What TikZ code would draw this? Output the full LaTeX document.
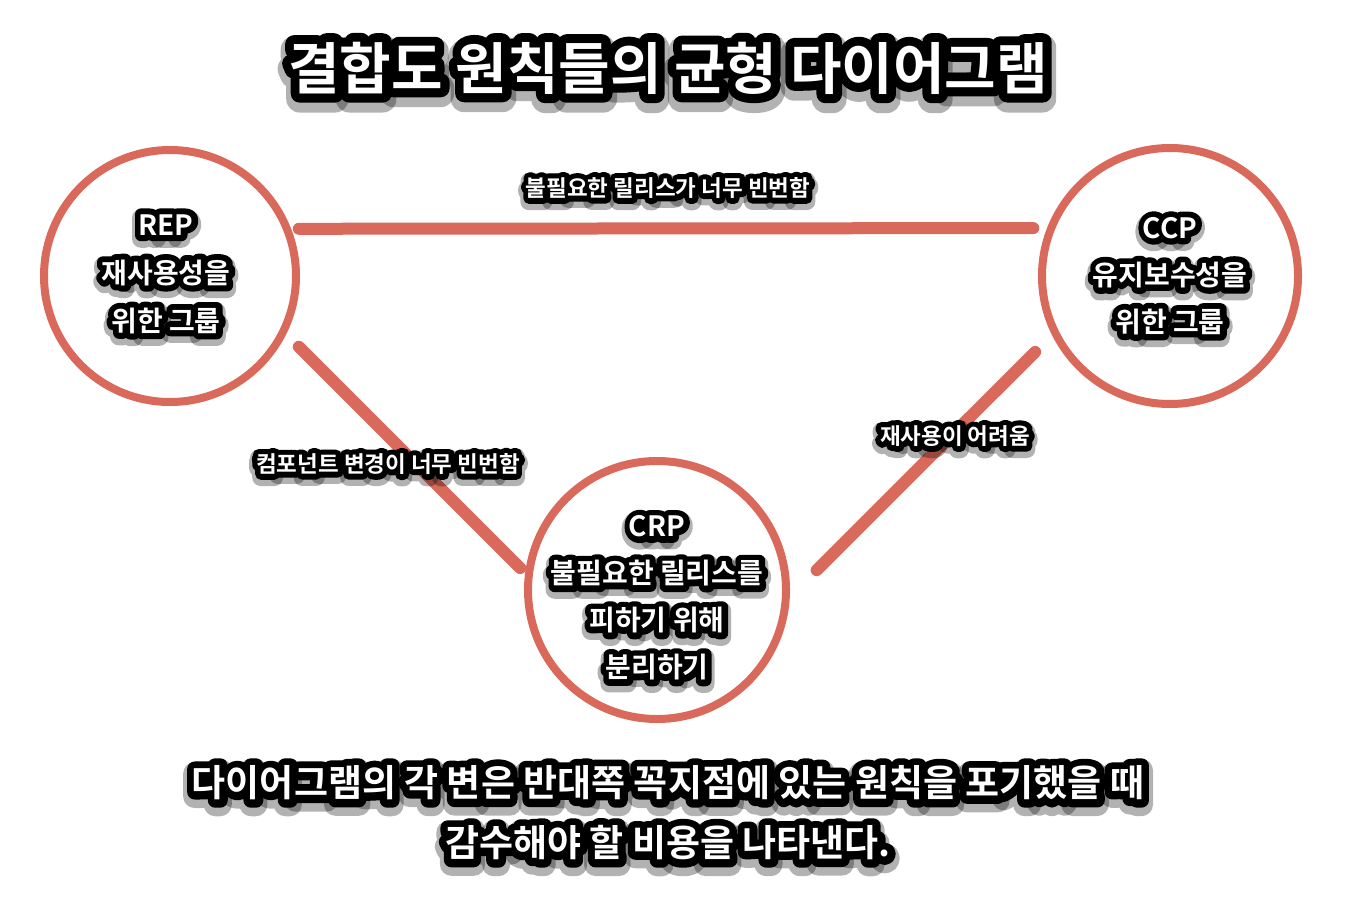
\documentclass[tikz,border=0pt]{standalone}
\usepackage{fontspec}
\setmainfont{Noto Sans CJK KR}[BoldFont=* Bold]
\usetikzlibrary{calc}
\definecolor{ringc}{RGB}{217,105,91}
\tikzset{
  gtxt/.style={inner sep=0pt, align=center},
  ring/.style={circle, draw=ringc, line width=8pt, inner sep=0pt, outer sep=0pt},
  link/.style={draw=ringc, line width=12pt, line cap=round},
}
\newcommand{\strokeon}[1]{\special{pdf:literal direct 1 Tr #1 w 1 j 1 J}}
% #1 name, #2 position, #3 font, #4 outline stroke width, #5 text
\newcommand{\glowtext}[5]{%
  \node[gtxt,text=black,opacity=0.3,font=#3] at ($(#2)+(0,{#4*0.3})$) {\strokeon{\the\numexpr#4*3/2\relax}#5};
  \node[gtxt,text=black,font=#3] at (#2) {\strokeon{#4}#5};
  \node[gtxt,text=white,font=#3] (#1) at (#2) {#5};
}
\begin{document}
\begin{tikzpicture}[x=1pt,y=-1pt]
\useasboundingbox[fill=white] (0,0) rectangle (1348,896);
% rings
\node[ring, minimum size=252pt] (rep) at (170,276) {};
\node[ring, minimum size=256pt] (ccp) at (1170,276) {};
\node[ring, minimum size=258pt] (crp) at (657,590) {};
% connectors
\draw[link, shorten <=12pt, shorten >=18pt] (rep.22.3) -- (ccp.158.3);
\draw[link, shorten <=22pt, shorten >=12pt] (rep.-26.5) -- (crp.174.7);
\draw[link, shorten <=28pt, shorten >=44pt] (ccp.-154.6) -- (crp.-5.9);
% title
\glowtext{title}{668,68}{\fontsize{56}{60}\selectfont\bfseries}{18}{결합도 원칙들의 균형 다이어그램}
% circle texts
\glowtext{reptxt}{166,274}{\fontsize{28}{48}\selectfont\bfseries}{12}{REP\\재사용성을\\위한 그룹}
\glowtext{ccptxt}{1170,276}{\fontsize{28}{47}\selectfont\bfseries}{12}{CCP\\유지보수성을\\위한 그룹}
\glowtext{crptxt}{657,598}{\fontsize{28}{47}\selectfont\bfseries}{12}{CRP\\불필요한 릴리스를\\피하기 위해\\분리하기}
% edge labels
\glowtext{toplbl}{668,188}{\fontsize{22.5}{24}\selectfont\bfseries}{11}{불필요한 릴리스가 너무 빈번함}
\glowtext{leftlbl}{388,464}{\fontsize{22.5}{24}\selectfont\bfseries}{11}{컴포넌트 변경이 너무 빈번함}
\glowtext{rightlbl}{955,436}{\fontsize{22.5}{24}\selectfont\bfseries}{11}{재사용이 어려움}
% bottom caption
\glowtext{cap}{668,813}{\fontsize{37}{60}\selectfont\bfseries}{15}{다이어그램의 각 변은 반대쪽 꼭지점에 있는 원칙을 포기했을 때\\감수해야 할 비용을 나타낸다.}
\end{tikzpicture}
\end{document}
